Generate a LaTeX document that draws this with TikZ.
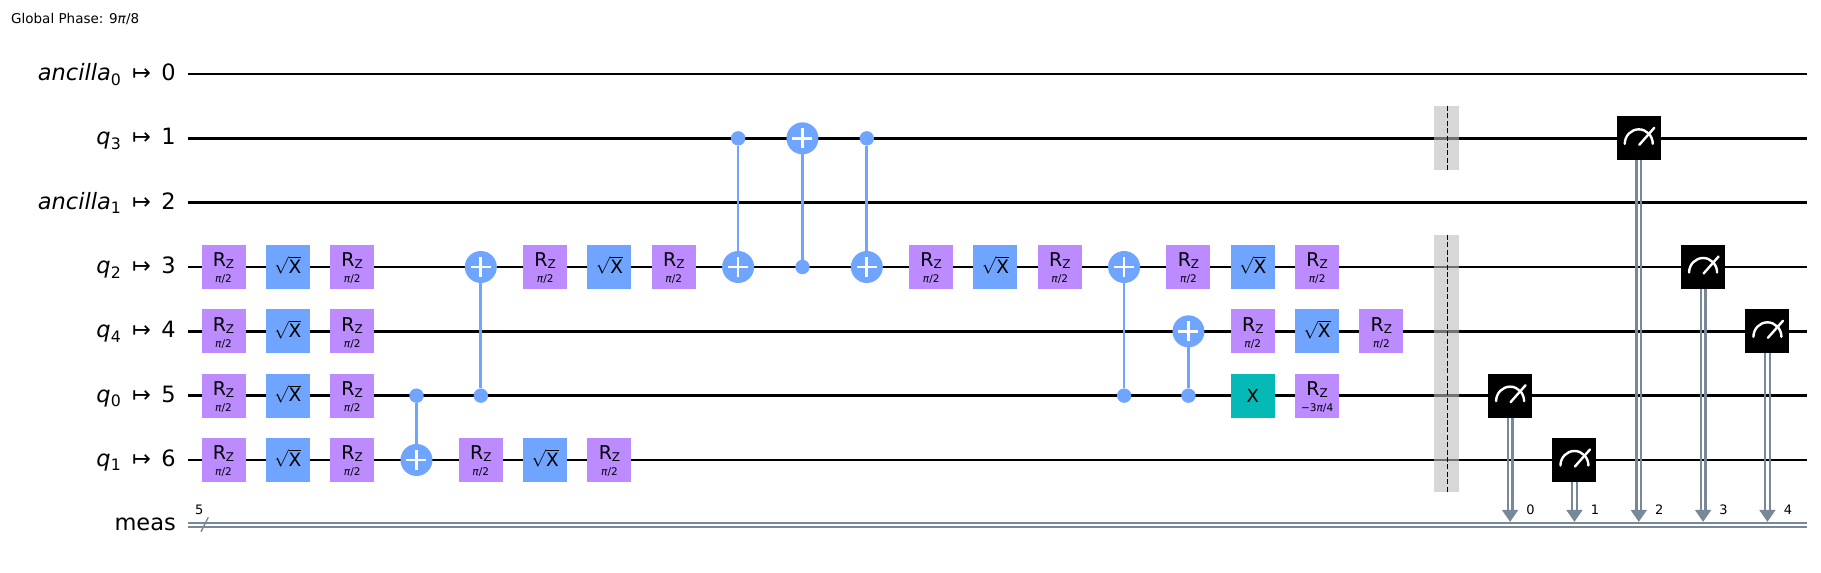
\documentclass[tikz,border=0pt]{standalone}
\usepackage{fontspec}
\setmainfont{DejaVu Sans}
\usepackage{amsmath}
\definecolor{rzc}{HTML}{BB8BFF}
\definecolor{sxc}{HTML}{6FA4FF}
\definecolor{xc}{HTML}{05BAB6}
\definecolor{clc}{HTML}{778899}
\definecolor{barc}{HTML}{BDBDBD}
\newcommand{\rowy}[1]{\fpeval{74+64.33*#1}}
\newcommand{\gatex}[1]{\fpeval{223.5+64.33*#1}}
\tikzset{
 x=1pt,y=-1pt,
 wire/.style={line width=2.8pt,black},
 clwire/.style={line width=2.4pt,clc},
 gatebox/.style={minimum width=44pt,minimum height=44pt,inner sep=0pt,outer sep=0pt,text=black},
 rzgate/.style={gatebox,fill=rzc},
 sxgate/.style={gatebox,fill=sxc},
 xgate/.style={gatebox,fill=xc},
 mgate/.style={gatebox,fill=black},
 ctrldot/.style={circle,fill=sxc,minimum size=14.4pt,inner sep=0pt,outer sep=0pt},
 target/.style={circle,fill=sxc,minimum size=32pt,inner sep=0pt,outer sep=0pt},
 cxline/.style={line width=2.7pt,sxc},
 lab/.style={anchor=base east,inner sep=0pt,font=\fontsize{22.5}{24}\selectfont},
 gatetext/.style={anchor=base,inner sep=0pt,text=black},
 smalltext/.style={inner sep=0pt,font=\fontsize{13}{13}\selectfont},
 meter/.style={white,line width=2.4pt},
 barrierbg/.style={fill=barc,opacity=.6},
 barrierline/.style={black,line width=.95pt,dash pattern=on 5pt off 2.4pt},
}
\newcommand{\pihalf}{\textit{π}/2}
\newcommand{\rz}[3][\pihalf]{\node[rzgate] (#2) at (\gatex{#3},\rowy{\currow}) {};
 \node[gatetext,font=\fontsize{19}{20}\selectfont] (#2r) at (#2.center) {R\raisebox{-1.7pt}{\fontsize{12}{13}\selectfont Z}};
 \node[gatetext,font=\fontsize{10.5}{11}\selectfont] (#2p) at ([yshift=-16pt]#2.center) {#1};}
\newcommand{\sx}[2]{\node[sxgate] (#1) at (\gatex{#2},\rowy{\currow}) {};
 \node[gatetext,font=\fontsize{18.5}{19}\selectfont] (#1t) at ([yshift=-6.3pt]#1.center) {$\sqrt{\text{X}}$};}
\newcommand{\trip}[2]{\rz{#1a}{#2}\sx{#1b}{\fpeval{#2+1}}\rz{#1c}{\fpeval{#2+2}}}
\newcommand{\target}[2]{\node[target] (#1) at (\gatex{#2},\rowy{\currow}) {};
 \draw[white,line width=2.7pt] ([xshift=-10pt]#1.center) -- ([xshift=10pt]#1.center) ([yshift=-10pt]#1.center) -- ([yshift=10pt]#1.center);}
\newcommand{\ctrl}[2]{\node[ctrldot] (#1) at (\gatex{#2},\rowy{\currow}) {};}
\newcommand{\measure}[4]{% name, column, row, label
 \node[mgate] (#1) at (\gatex{#2},\rowy{#3}) {};
 \coordinate (#1end) at (\gatex{#2},\rowy{7});
 \draw[clwire] ([xshift=-2.3pt]#1.south) -- ([xshift=-2.3pt,yshift=10pt]#1end);
 \draw[clwire] ([xshift=2.3pt]#1.south) -- ([xshift=2.3pt,yshift=10pt]#1end);
 \fill[clc] ([yshift=2.5pt]#1end) -- ([shift={(-8.3pt,14.5pt)}]#1end) -- ([shift={(8.3pt,14.5pt)}]#1end) -- cycle;
 \draw[meter,line cap=round] ([shift={(14pt,-5.5pt)}]#1.center) arc[start angle=0,end angle=180,x radius=14pt,y radius=14.5pt];
 \draw[meter,line cap=round] ([shift={(0.5pt,-6.5pt)}]#1.center) -- ([shift={(15.5pt,10.5pt)}]#1.center);
 \node[smalltext] (#1lab) at ([shift={(20.5pt,14.5pt)}]#1end) {#4};
}
\begin{document}
\begin{tikzpicture}
\useasboundingbox (0,0) rectangle (1821,573);
\node[anchor=base west,inner sep=0pt,font=\fontsize{13.5}{14}\selectfont] (phase) at (11,23) {Global Phase: 9\textit{π}/8};
% labels and wires
\foreach \r/\t in {0/{\textit{ancilla}\textsubscript{0}},1/{\textit{q}\textsubscript{3}},2/{\textit{ancilla}\textsubscript{1}},3/{\textit{q}\textsubscript{2}},4/{\textit{q}\textsubscript{4}},5/{\textit{q}\textsubscript{0}},6/{\textit{q}\textsubscript{1}}}{
 \node[lab] (lq\r) at (121.5,\fpeval{74+64.33*\r+6.5}) {\t};
 \node[lab] (lm\r) at (151.3,\fpeval{74+64.33*\r+6.5}) {↦};
 \node[lab] (ln\r) at (176,\fpeval{74+64.33*\r+6.5}) {\r};
 \coordinate (ws\r) at (188,\rowy{\r});
 \coordinate (we\r) at (1807,\rowy{\r});
 \draw[wire] (ws\r) -- (we\r);
}
\node[lab] (lmeas) at (176,\fpeval{74+64.33*7+6.5}) {meas};
\coordinate (cs) at (188,\rowy{7});
\coordinate (ce) at (1807,\rowy{7});
\draw[clwire] ([yshift=1.5pt]cs) -- ([yshift=1.5pt]ce);
\draw[clwire] ([yshift=-2.7pt]cs) -- ([yshift=-2.7pt]ce);
\coordinate (sa) at (201,531.7);
\coordinate (sb) at (208.3,517.3);
\draw[clc,line width=1.4pt] (sa) -- (sb);
\node[smalltext] (five) at (199.3,510) {5};
% cx gates
\def\currow{3}\ctrl{c3a}{9}
\def\currow{5}\ctrl{c5a}{3}\ctrl{c5b}{4}\ctrl{c5c}{14}\ctrl{c5d}{15}
\def\currow{1}\ctrl{c1a}{8}\ctrl{c1b}{10}
\target{t1}{9}
\def\currow{6}\target{t6}{3}
\def\currow{4}\target{t4}{15}
\def\currow{3}\target{t3a}{4}\target{t3b}{8}\target{t3c}{10}\target{t3d}{14}
\draw[cxline] (c5a) -- (t6);
\draw[cxline] (c5b) -- (t3a);
\draw[cxline] (c1a) -- (t3b);
\draw[cxline] (c3a) -- (t1);
\draw[cxline] (c1b) -- (t3c);
\draw[cxline] (c5c) -- (t3d);
\draw[cxline] (c5d) -- (t4);
% gates
\def\currow{3}\trip{g3a}{0}\trip{g3b}{5}\trip{g3c}{11}\trip{g3d}{15}
\def\currow{4}\trip{g4a}{0}\trip{g4b}{16}
\def\currow{5}\trip{g5a}{0}
\node[xgate,font=\fontsize{18}{18}\selectfont] (x5) at (\gatex{16},\rowy{5}) {X};
\rz[−3\textit{π}/4]{r5}{17}
\def\currow{6}\trip{g6a}{0}\trip{g6b}{4}
% measures
\measure{m0}{20}{5}{0}
\measure{m1}{21}{6}{1}
\measure{m2}{22}{1}{2}
\measure{m3}{23}{3}{3}
\measure{m4}{24}{4}{4}
% barriers
\fill[barrierbg] (1434.3,106) rectangle (1459,170);
\fill[barrierbg] (1434.3,235) rectangle (1459,492);
\coordinate (b1a) at (1447,106); \coordinate (b1b) at (1447,171);
\coordinate (b2a) at (1447,235); \coordinate (b2b) at (1447,493);
\draw[barrierline] (b1a) -- (b1b);
\draw[barrierline] (b2a) -- (b2b);
\end{tikzpicture}
\end{document}
